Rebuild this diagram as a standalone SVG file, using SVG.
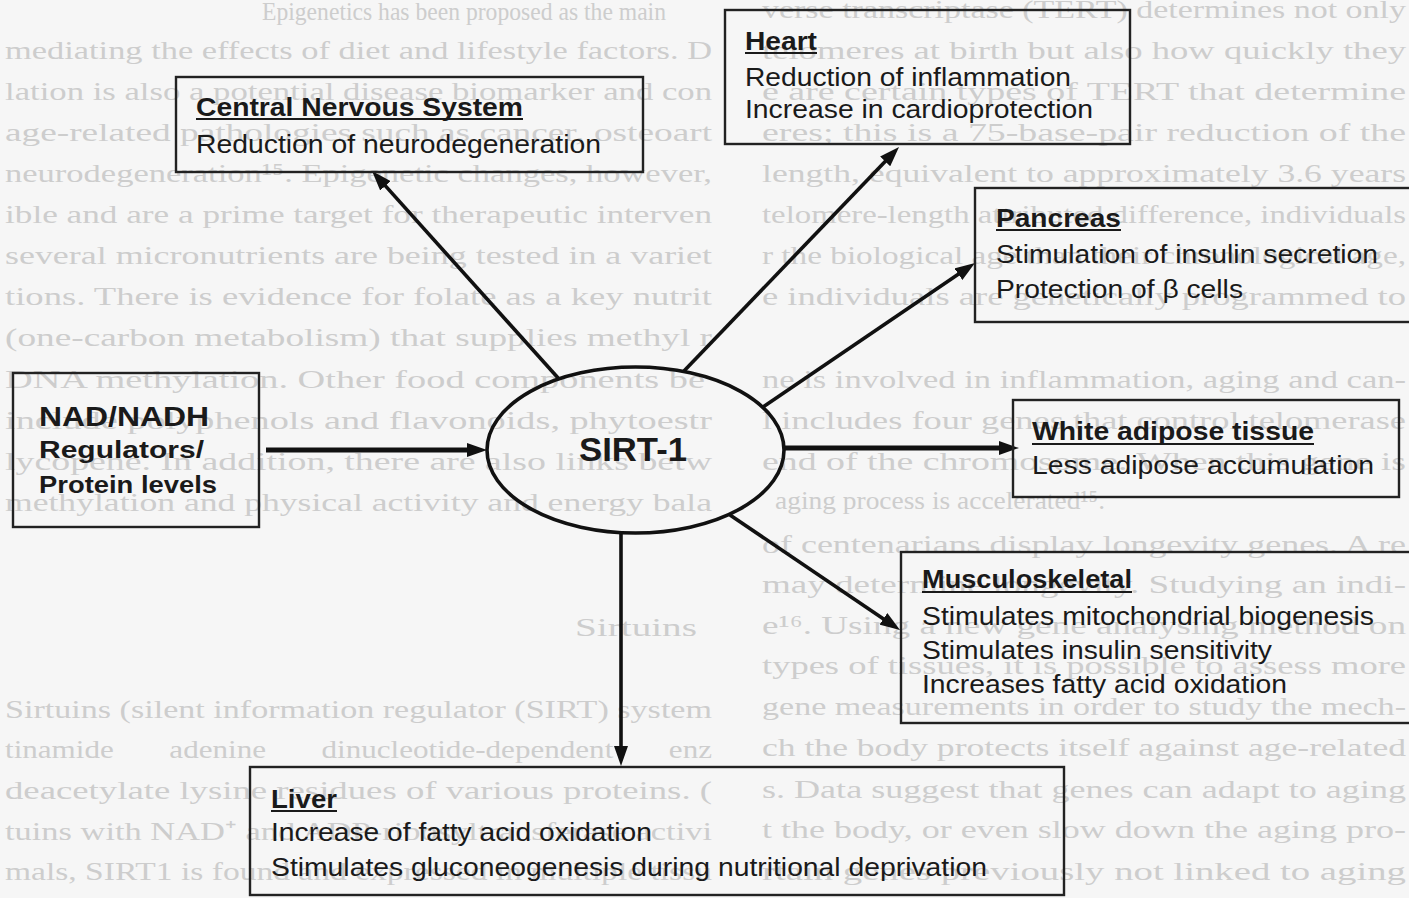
<svg xmlns="http://www.w3.org/2000/svg" width="1409" height="898" viewBox="0 0 1409 898">
  <style>
    .pg { font-family: "Liberation Serif", "Times New Roman", serif; font-size: 26px; fill: #cdcdcd; }
    .box { fill: none; stroke: #222; stroke-width: 2.4; }
    .hd { font-family: "Liberation Sans", Arial, sans-serif; font-size: 25px; font-weight: bold; fill: #1a1a1a; }
    .tx { font-family: "Liberation Sans", Arial, sans-serif; font-size: 25px; fill: #1a1a1a; }
    .bd { font-family: "Liberation Sans", Arial, sans-serif; font-weight: bold; fill: #1a1a1a; }
    .ul { stroke: #1a1a1a; stroke-width: 2.2; }
    .ln { fill: none; stroke: #111; stroke-width: 3.6; marker-end: url(#ah); }
    .thick { stroke-width: 5; }
  </style>
  <defs>
    <marker id="ah" viewBox="0 0 20 14" refX="10" refY="7" markerWidth="20" markerHeight="14" markerUnits="userSpaceOnUse" orient="auto">
      <path d="M0,0 L20,7 L0,14 z" fill="#111"/>
    </marker>
  </defs>

  <!-- page -->
  <rect width="1409" height="898" fill="#f6f6f6"/>

  <!-- printed page text behind the figure -->
  <g id="page-text" class="pg">
    <text x="262" y="20" textLength="404" lengthAdjust="spacingAndGlyphs">Epigenetics has been proposed as the main</text>
    <text x="5" y="59" textLength="707" lengthAdjust="spacingAndGlyphs">mediating the effects of diet and lifestyle factors. D</text>
    <text x="5" y="100" textLength="707" lengthAdjust="spacingAndGlyphs">lation is also a potential disease biomarker and con</text>
    <text x="5" y="141" textLength="707" lengthAdjust="spacingAndGlyphs">age-related pathologies such as cancer, osteoart</text>
    <text x="5" y="182" textLength="707" lengthAdjust="spacingAndGlyphs">neurodegeneration¹⁵. Epigenetic changes, however,</text>
    <text x="5" y="223" textLength="707" lengthAdjust="spacingAndGlyphs">ible and are a prime target for therapeutic interven</text>
    <text x="5" y="264" textLength="707" lengthAdjust="spacingAndGlyphs">several micronutrients are being tested in a variet</text>
    <text x="5" y="305" textLength="707" lengthAdjust="spacingAndGlyphs">tions. There is evidence for folate as a key nutrit</text>
    <text x="5" y="346" textLength="707" lengthAdjust="spacingAndGlyphs">(one-carbon metabolism) that supplies methyl r</text>
    <text x="5" y="388" textLength="700" lengthAdjust="spacingAndGlyphs">DNA methylation. Other food components be</text>
    <text x="5" y="429" textLength="707" lengthAdjust="spacingAndGlyphs">include polyphenols and flavonoids, phytoestr</text>
    <text x="5" y="470" textLength="707" lengthAdjust="spacingAndGlyphs">lycopene. In addition, there are also links betw</text>
    <text x="5" y="511" textLength="707" lengthAdjust="spacingAndGlyphs">methylation and physical activity and energy bala</text>
    <text x="575" y="636" textLength="122" lengthAdjust="spacingAndGlyphs">Sirtuins</text>
    <text x="5" y="718" textLength="707" lengthAdjust="spacingAndGlyphs">Sirtuins (silent information regulator (SIRT) system</text>
    <text x="5" y="758" textLength="707" lengthAdjust="spacingAndGlyphs" word-spacing="40">tinamide adenine dinucleotide-dependent enz</text>
    <text x="5" y="799" textLength="707" lengthAdjust="spacingAndGlyphs">deacetylate lysine residues of various proteins. (</text>
    <text x="5" y="840" textLength="707" lengthAdjust="spacingAndGlyphs">tuins with NAD⁺ and ADP-ribosyltransferase activi</text>
    <text x="5" y="880" textLength="707" lengthAdjust="spacingAndGlyphs">mals, SIRT1 is found and expressed in multiple tissu</text>

    <text x="762" y="18" textLength="644" lengthAdjust="spacingAndGlyphs">verse transcriptase (TERT) determines not only</text>
    <text x="762" y="59" textLength="644" lengthAdjust="spacingAndGlyphs">telomeres at birth but also how quickly they</text>
    <text x="762" y="100" textLength="644" lengthAdjust="spacingAndGlyphs">e are certain types of TERT that determine</text>
    <text x="762" y="141" textLength="644" lengthAdjust="spacingAndGlyphs">eres; this is a 75-base-pair reduction of the</text>
    <text x="762" y="182" textLength="644" lengthAdjust="spacingAndGlyphs">length, equivalent to approximately 3.6 years</text>
    <text x="762" y="223" textLength="644" lengthAdjust="spacingAndGlyphs">telomere-length attributed difference, individuals</text>
    <text x="762" y="264" textLength="644" lengthAdjust="spacingAndGlyphs">r the biological age than their chronological age,</text>
    <text x="762" y="305" textLength="644" lengthAdjust="spacingAndGlyphs">e individuals are genetically programmed to</text>
    <text x="762" y="388" textLength="644" lengthAdjust="spacingAndGlyphs">ne is involved in inflammation, aging and can-</text>
    <text x="762" y="429" textLength="644" lengthAdjust="spacingAndGlyphs">l includes four genes that control telomerase</text>
    <text x="762" y="470" textLength="644" lengthAdjust="spacingAndGlyphs">end of the chromosome. When this gene is</text>
    <text x="775" y="509" textLength="330" lengthAdjust="spacingAndGlyphs">aging process is accelerated¹⁵.</text>
    <text x="762" y="553" textLength="644" lengthAdjust="spacingAndGlyphs">of centenarians display longevity genes. A re</text>
    <text x="762" y="593" textLength="644" lengthAdjust="spacingAndGlyphs">may determine longevity. Studying an indi-</text>
    <text x="762" y="634" textLength="644" lengthAdjust="spacingAndGlyphs">e¹⁶. Using a new gene analysing method on</text>
    <text x="762" y="674" textLength="644" lengthAdjust="spacingAndGlyphs">types of tissues, it is possible to assess more</text>
    <text x="762" y="715" textLength="644" lengthAdjust="spacingAndGlyphs">gene measurements in order to study the mech-</text>
    <text x="762" y="756" textLength="644" lengthAdjust="spacingAndGlyphs">ch the body protects itself against age-related</text>
    <text x="762" y="798" textLength="644" lengthAdjust="spacingAndGlyphs">s. Data suggest that genes can adapt to aging</text>
    <text x="762" y="838" textLength="644" lengthAdjust="spacingAndGlyphs">t the body, or even slow down the aging pro-</text>
    <text x="762" y="880" textLength="644" lengthAdjust="spacingAndGlyphs">rtain genes previously not linked to aging</text>
  </g>

  <!-- connectors -->
  <g id="connectors">
    <line class="ln thick" x1="266" y1="450" x2="477" y2="450"/>
    <line class="ln" x1="559" y1="379" x2="378.7" y2="178.4"/>
    <line class="ln" x1="684" y1="371" x2="892.1" y2="154.2"/>
    <line class="ln" x1="763" y1="407" x2="966.7" y2="268.6"/>
    <line class="ln thick" x1="784" y1="448" x2="1009" y2="448"/>
    <line class="ln" x1="730" y1="515" x2="891.7" y2="624.4"/>
    <line class="ln" x1="621" y1="533" x2="621" y2="756"/>
  </g>

  <!-- SIRT-1 hub -->
  <g id="sirt1">
    <ellipse cx="635.5" cy="450" rx="148.5" ry="83" fill="none" stroke="#111" stroke-width="3.6"/>
    <text class="bd" x="579" y="461" font-size="34" textLength="108" lengthAdjust="spacingAndGlyphs">SIRT-1</text>
  </g>

  <!-- input -->
  <g id="nad">
    <rect class="box" x="13" y="373" width="246" height="154"/>
    <text class="bd" x="39" y="426" font-size="28" textLength="170" lengthAdjust="spacingAndGlyphs">NAD/NADH</text>
    <text class="bd" x="39" y="458" font-size="24" textLength="165" lengthAdjust="spacingAndGlyphs">Regulators/</text>
    <text class="bd" x="39" y="493" font-size="24" textLength="178" lengthAdjust="spacingAndGlyphs">Protein levels</text>
  </g>

  <!-- target tissues -->
  <g id="cns">
    <rect class="box" x="176" y="77" width="467" height="95"/>
    <text class="hd" x="196" y="116" textLength="327" lengthAdjust="spacingAndGlyphs">Central Nervous System</text>
    <line class="ul" x1="196" y1="119" x2="523" y2="119"/>
    <text class="tx" x="196" y="153" textLength="405" lengthAdjust="spacingAndGlyphs">Reduction of neurodegeneration</text>
  </g>

  <g id="heart">
    <rect class="box" x="725" y="10" width="405" height="134"/>
    <text class="hd" x="745" y="50" textLength="72" lengthAdjust="spacingAndGlyphs">Heart</text>
    <line class="ul" x1="745" y1="53" x2="817" y2="53"/>
    <text class="tx" x="745" y="86" textLength="326" lengthAdjust="spacingAndGlyphs">Reduction of inflammation</text>
    <text class="tx" x="745" y="118" textLength="348" lengthAdjust="spacingAndGlyphs">Increase in cardioprotection</text>
  </g>

  <g id="pancreas">
    <rect class="box" x="975" y="188" width="450" height="134"/>
    <text class="hd" x="996" y="227" textLength="125" lengthAdjust="spacingAndGlyphs">Pancreas</text>
    <line class="ul" x1="996" y1="230" x2="1121" y2="230"/>
    <text class="tx" x="996" y="263" textLength="382" lengthAdjust="spacingAndGlyphs">Stimulation of insulin secretion</text>
    <text class="tx" x="996" y="298" textLength="247" lengthAdjust="spacingAndGlyphs">Protection of β cells</text>
  </g>

  <g id="adipose">
    <rect class="box" x="1013" y="400" width="386" height="97"/>
    <text class="hd" x="1032" y="440" textLength="282" lengthAdjust="spacingAndGlyphs">White adipose tissue</text>
    <line class="ul" x1="1032" y1="444" x2="1314" y2="444"/>
    <text class="tx" x="1032" y="474" textLength="342" lengthAdjust="spacingAndGlyphs">Less adipose accumulation</text>
  </g>

  <g id="musculoskeletal">
    <rect class="box" x="901" y="552" width="520" height="171"/>
    <text class="hd" x="922" y="588" textLength="210" lengthAdjust="spacingAndGlyphs">Musculoskeletal</text>
    <line class="ul" x1="922" y1="592" x2="1132" y2="592"/>
    <text class="tx" x="922" y="625" textLength="452" lengthAdjust="spacingAndGlyphs">Stimulates mitochondrial biogenesis</text>
    <text class="tx" x="922" y="659" textLength="350" lengthAdjust="spacingAndGlyphs">Stimulates insulin sensitivity</text>
    <text class="tx" x="922" y="693" textLength="365" lengthAdjust="spacingAndGlyphs">Increases fatty acid oxidation</text>
  </g>

  <g id="liver">
    <rect class="box" x="250" y="767" width="814" height="128"/>
    <text class="hd" x="271" y="808" textLength="66" lengthAdjust="spacingAndGlyphs">Liver</text>
    <line class="ul" x1="271" y1="811" x2="337" y2="811"/>
    <text class="tx" x="271" y="841" textLength="381" lengthAdjust="spacingAndGlyphs">Increase of fatty acid oxidation</text>
    <text class="tx" x="271" y="876" textLength="716" lengthAdjust="spacingAndGlyphs">Stimulates gluconeogenesis during nutritional deprivation</text>
  </g>
</svg>
